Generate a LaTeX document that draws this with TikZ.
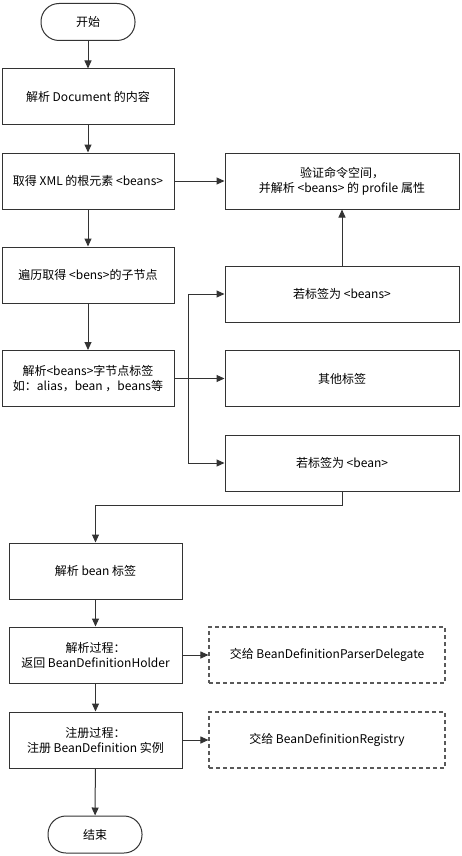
\documentclass[tikz,border=0pt]{standalone}
\usepackage{fontspec}
\setmainfont{Noto Sans CJK SC}
\usetikzlibrary{arrows.meta}
\begin{document}
\begin{tikzpicture}[x=1pt,y=-1pt,
  font=\fontsize{12}{15}\selectfont,
  box/.style={draw=black!80, line width=1pt, minimum width=172pt, minimum height=56pt, align=center, inner sep=0pt},
  wbox/.style={box, minimum width=234pt},
  dbox/.style={box, draw=black!65, line width=1.1pt, dash pattern=on 4pt off 3pt, minimum width=236pt},
  term/.style={draw=black!80, line width=1pt, rounded corners=18pt, minimum width=94pt, minimum height=37pt, inner sep=0pt},
  conn/.style={draw=black!80, line width=1pt, -{Triangle[length=8pt,width=7pt]}}
]
\useasboundingbox (0,0) rectangle (461,856);
\node[term] (start) at (88,22) {开始};
\node[box] (b1) at (88,97) {解析 Document 的内容};
\node[box] (b2) at (88,181) {取得 XML 的根元素 <beans>};
\node[wbox] (r0) at (342,181) {验证命令空间，\\并解析 <beans> 的 profile 属性};
\node[box] (b3) at (88,275) {遍历取得 <bens>的子节点};
\node[box] (b4) at (88,378.5) {解析<beans>字节点标签\\如：alias，bean ，beans等};
\node[wbox] (r1) at (342,294) {若标签为 <beans>};
\node[wbox] (r2) at (342,378.5) {其他标签};
\node[wbox] (r3) at (342,463) {若标签为 <bean>};
\node[box, minimum width=173pt] (b5) at (95.5,571) {解析 bean 标签};
\node[box, minimum width=173pt] (b6) at (95.5,655) {解析过程：\\返回 BeanDefinitionHolder};
\node[box, minimum width=173pt] (b7) at (95.5,740) {注册过程：\\注册 BeanDefinition 实例};
\node[dbox] (d1) at (327,655) {交给 BeanDefinitionParserDelegate};
\node[dbox] (d2) at (327,740) {交给 BeanDefinitionRegistry};
\node[term] (end) at (95,834.5) {结束};
\coordinate (branch) at (188,378.5);

\draw[conn] (start) -- (b1);
\draw[conn] (b1) -- (b2);
\draw[conn] (b2) -- (b3);
\draw[conn] (b3) -- (b4);
\draw[conn] (b2.east) -- (r0.west);
\draw[conn] (r1.north) -- (r0.south);
\draw[line width=1pt, draw=black!80] (b4.east) -- (branch);
\draw[conn] (branch) |- (r1.west);
\draw[conn] (branch) -- (r2.west);
\draw[conn] (branch) |- (r3.west);
\draw[conn] (r3.south) -- ++(0,14) -| (b5.north);
\draw[conn] (b5) -- (b6);
\draw[conn] (b6) -- (b7);
\draw[conn] (b7) -- (end);
\draw[conn] (b6.east) -- (d1.west);
\draw[conn] (b7.east) -- (d2.west);
\end{tikzpicture}
\end{document}
